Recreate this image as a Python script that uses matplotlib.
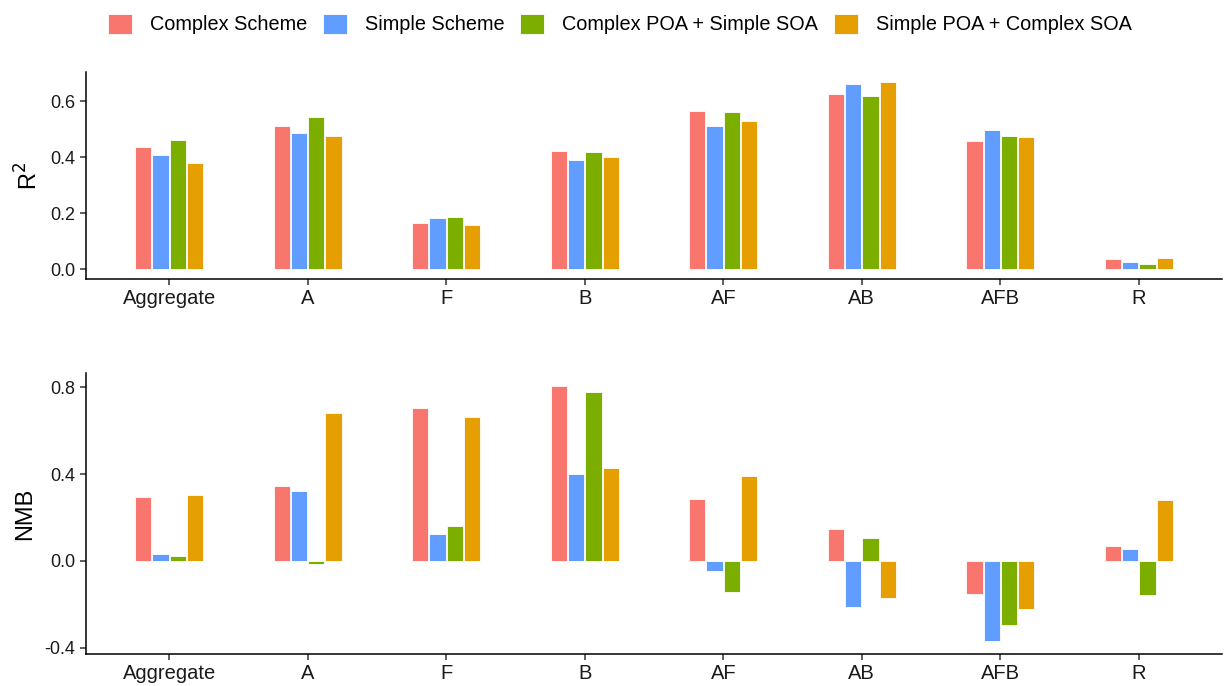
import matplotlib.pyplot as plt
import numpy as np

plt.rcParams['font.family'] = ['Liberation Sans', 'DejaVu Sans']
plt.rcParams['axes.unicode_minus'] = False

categories = ['Aggregate', 'A', 'F', 'B', 'AF', 'AB', 'AFB', 'R']
schemes = ['Complex Scheme', 'Simple Scheme', 'Complex POA + Simple SOA', 'Simple POA + Complex SOA']
colors = ['#F8766D', '#619CFF', '#7CAE00', '#E69F00']

# R^2 per scheme
r2_complex = [0.437, 0.514, 0.166, 0.422, 0.564, 0.625, 0.460, 0.038]
r2_simple = [0.410, 0.488, 0.182, 0.392, 0.511, 0.663, 0.497, 0.025]
r2_cpoa_ssoa = [0.462, 0.545, 0.188, 0.420, 0.561, 0.621, 0.477, 0.021]
r2_spoa_csoa = [0.379, 0.477, 0.160, 0.400, 0.529, 0.671, 0.473, 0.042]

# NMB per scheme
nmb_complex = [0.294, 0.347, 0.702, 0.806, 0.287, 0.149, -0.150, 0.071]
nmb_simple = [0.031, 0.320, 0.126, 0.402, -0.046, -0.211, -0.369, 0.057]
nmb_cpoa_ssoa = [0.022, -0.012, 0.163, 0.779, -0.145, 0.107, -0.296, -0.156]
nmb_spoa_csoa = [0.303, 0.682, 0.662, 0.428, 0.389, -0.170, -0.222, 0.282]

r2 = [r2_complex, r2_simple, r2_cpoa_ssoa, r2_spoa_csoa]
nmb = [nmb_complex, nmb_simple, nmb_cpoa_ssoa, nmb_spoa_csoa]

fig = plt.figure(figsize=(12.25, 6.86), dpi=100)
W, H = 1225, 686
ax1 = fig.add_axes([86 / W, 1 - 279 / H, (1222 - 86) / W, (279 - 72) / H])
ax2 = fig.add_axes([86 / W, 1 - 654 / H, (1222 - 86) / W, (654 - 373) / H])

x = np.arange(len(categories))
step = 0.125
offsets = (np.arange(4) - 1.5) * step


def draw(ax, series, ylabel, yticks, ylim):
    handles = []
    for i, vals in enumerate(series):
        h = ax.bar(x + offsets[i], vals, width=0.118, color=colors[i],
                   edgecolor='white', linewidth=0.6, label=schemes[i])
        handles.append(h)
    ax.set_xlim(-0.6, len(categories) - 0.4)
    ax.set_ylim(*ylim)
    ax.set_yticks(yticks)
    ax.set_yticklabels([f'{t:.1f}' for t in yticks])
    ax.set_xticks(x)
    ax.set_xticklabels(categories)
    ax.set_ylabel(ylabel, fontsize=17, labelpad=6)
    for s in ['top', 'right']:
        ax.spines[s].set_visible(False)
    for s in ['left', 'bottom']:
        ax.spines[s].set_linewidth(1.1)
    ax.tick_params(length=4, width=1.1, colors='#333333', labelcolor='#1a1a1a')
    ax.tick_params(axis='x', labelsize=14.5, pad=3)
    ax.tick_params(axis='y', labelsize=13)
    return handles


handles = draw(ax1, r2, 'R$^2$', [0.0, 0.2, 0.4, 0.6], (-0.034, 0.705))
draw(ax2, nmb, 'NMB', [-0.4, 0.0, 0.4, 0.8], (-0.428, 0.865))

fig.legend(handles=handles, labels=schemes, loc='center', bbox_to_anchor=(0.506, 1 - 24 / H),
           ncol=4, frameon=False, fontsize=14.3, handlelength=1.2, handleheight=1.2,
           columnspacing=0.8, handletextpad=0.9)

fig.savefig('out.png', dpi=100)
